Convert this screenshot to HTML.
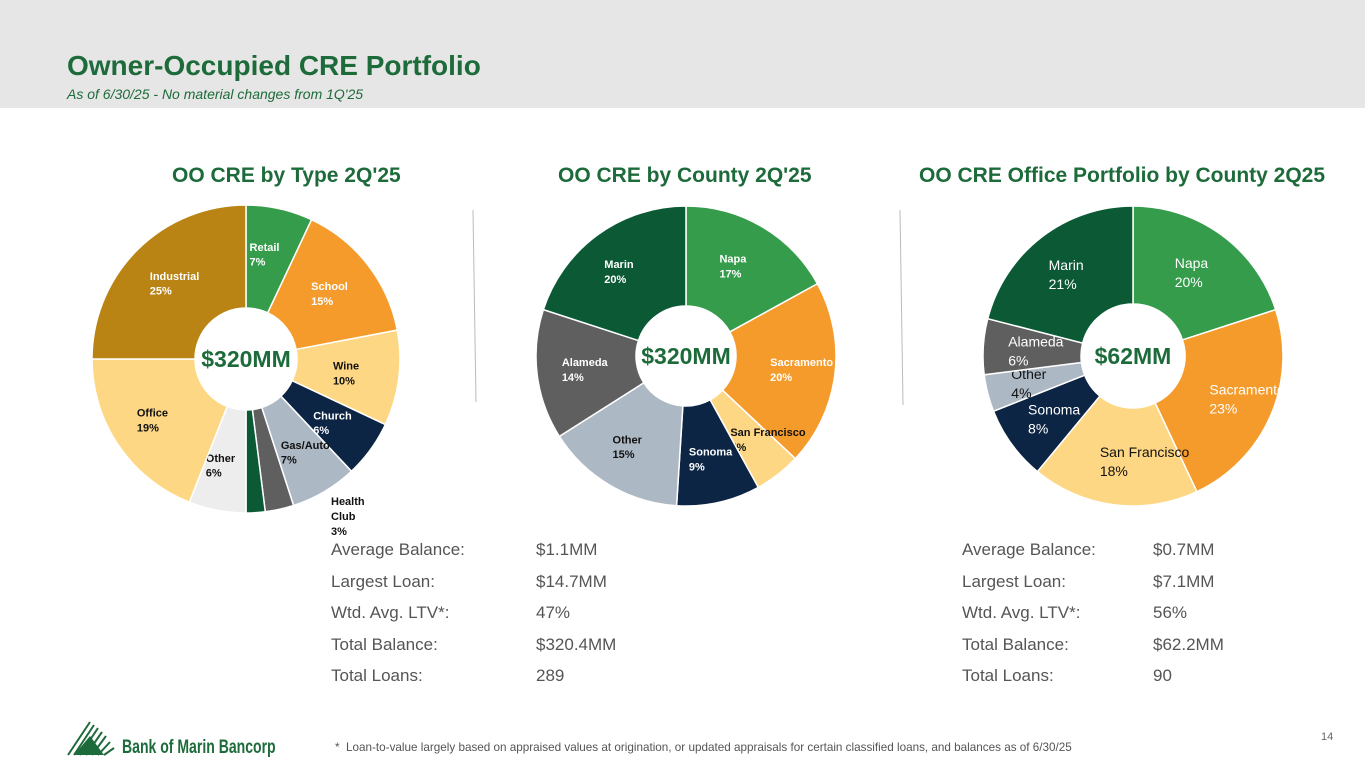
<!DOCTYPE html>
<html><head><meta charset="utf-8">
<style>
body{margin:0;width:1365px;height:768px;overflow:hidden;background:#fff;font-family:"Liberation Sans",sans-serif;position:relative}
.hdr{position:absolute;left:0;top:0;width:1365px;height:108px;background:#e6e6e6}
.title{position:absolute;left:67px;top:50px;font-size:28px;font-weight:bold;color:#1d6b3a}
.sub{position:absolute;left:67px;top:86px;font-size:14px;font-style:italic;color:#1d6b3a}
.ct{position:absolute;top:164px;font-size:21px;font-weight:bold;color:#1d6b3a}
.stats{position:absolute;font-size:17px;color:#555;line-height:31.5px}
.stats span{display:inline-block;width:205px}
.foot{position:absolute;left:335px;top:741px;font-size:11.7px;color:#555}
.pg{position:absolute;left:1321px;top:731px;font-size:11px;color:#666}
</style></head><body>
<div class="hdr"></div>
<div class="title">Owner-Occupied CRE Portfolio</div>
<div class="sub">As of 6/30/25 - No material changes from 1Q'25</div>
<div class="ct" style="left:172px">OO CRE by Type 2Q'25</div>
<div class="ct" style="left:558px">OO CRE by County 2Q'25</div>
<div class="ct" style="left:919px">OO CRE Office Portfolio by County 2Q25</div>
<svg id="svg" width="1365" height="768" style="position:absolute;left:0;top:0">
<line x1="473" y1="210" x2="476" y2="402" stroke="#bbb" stroke-width="1"/>
<line x1="900" y1="210" x2="903" y2="405" stroke="#bbb" stroke-width="1"/>
</svg>
<div class="stats" style="left:331px;top:534px">
<div><span>Average Balance:</span>$1.1MM</div><div><span>Largest Loan:</span>$14.7MM</div><div><span>Wtd. Avg. LTV*:</span>47%</div><div><span>Total Balance:</span>$320.4MM</div><div><span>Total Loans:</span>289</div></div>
<div class="stats" style="left:962px;top:534px">
<div><span style="width:191px">Average Balance:</span>$0.7MM</div><div><span style="width:191px">Largest Loan:</span>$7.1MM</div><div><span style="width:191px">Wtd. Avg. LTV*:</span>56%</div><div><span style="width:191px">Total Balance:</span>$62.2MM</div><div><span style="width:191px">Total Loans:</span>90</div></div>
<svg style="position:absolute;left:66px;top:720px" width="215" height="40">
<g stroke="#1d6b3a" stroke-width="2"><line x1="2" y1="35" x2="24" y2="2"/><line x1="8" y1="35" x2="28" y2="5"/><line x1="14" y1="35" x2="32" y2="8"/><line x1="20" y1="35" x2="36" y2="12"/><line x1="26" y1="35" x2="40" y2="16"/><line x1="32" y1="35" x2="44" y2="22"/><line x1="38" y1="35" x2="48" y2="28"/></g>
<polygon points="8,35 24,16 38,35" fill="#1d6b3a"/>
<text x="0" y="0" transform="translate(56,33) scale(0.78,1.1)" font-size="18" font-weight="bold" fill="#1d6b3a">Bank of Marin Bancorp</text></svg>
<div class="foot">* &nbsp;Loan-to-value largely based on appraised values at origination, or updated appraisals for certain classified loans, and balances as of 6/30/25</div>
<div class="pg">14</div>
<script>
const typeCats=["Retail","School","Wine","Church","Gas/Auto","Health Club","Misc","Other","Office","Industrial"];
const typeVals=[7,15,10,6,7,3,2,6,19,25];
const typeCols=["#349c4a","#f59b2c","#fdd784","#0c2544","#adb8c5","#5f5f5f","#0b5a35","#ededed","#fdd784","#b98414"];
const typeLabelCol=["#fff","#fff","#111","#fff","#111","#111","#111","#111","#111","#fff"];
const cntyCats=["Napa","Sacramento","San Francisco","Sonoma","Other","Alameda","Marin"];
const cntyVals=[17,20,5,9,15,14,20];
const offCats=["Napa","Sacramento","San Francisco","Sonoma","Other","Alameda","Marin"];
const offVals=[20,23,18,8,4,6,21];
const cntyCols=["#349c4a","#f59b2c","#fdd784","#0c2544","#adb8c5","#5f5f5f","#0b5a35"];
const cntyLabelCol=["#fff","#fff","#111","#fff","#111","#fff","#fff"];
const NS="http://www.w3.org/2000/svg";
const svg=document.getElementById('svg');
function pt(cx,cy,r,a){return [cx+r*Math.sin(a),cy-r*Math.cos(a)];}
function donut(id,cx,cy,R,ri,cats,vals,cols,lcols,center,bold,fs,skip){
  const tot=vals.reduce((a,b)=>a+b,0);let a0=0;
  const g=document.createElementNS(NS,'g');
  
  
  svg.appendChild(g);
  cats.forEach((c,i)=>{
    const a1=a0+vals[i]/tot*2*Math.PI;
    const [x0,y0]=pt(cx,cy,R,a0),[x1,y1]=pt(cx,cy,R,a1),[x2,y2]=pt(cx,cy,ri,a1),[x3,y3]=pt(cx,cy,ri,a0);
    const lg=(a1-a0)>Math.PI?1:0;
    const p=document.createElementNS(NS,'path');
    p.setAttribute('d',`M${x0},${y0}A${R},${R} 0 ${lg} 1 ${x1},${y1}L${x2},${y2}A${ri},${ri} 0 ${lg} 0 ${x3},${y3}Z`);
    p.setAttribute('fill',cols[i]);p.setAttribute('stroke','#fff');p.setAttribute('stroke-width','1.5');
    
    
    g.appendChild(p);
    if(!skip.includes(c)){
      const m=(a0+a1)/2;const [lx,ly]=pt(cx,cy,R*0.7,m);
      const t=document.createElementNS(NS,'text');
      t.setAttribute('x',lx-20);t.setAttribute('y',ly-3);t.setAttribute('font-size',fs);
      if(bold)t.setAttribute('font-weight','bold');
      t.setAttribute('fill',lcols[i]);
      
      
      t.innerHTML=`<tspan x="${lx-20}">${c}</tspan><tspan x="${lx-20}" dy="${fs*1.35}">${vals[i]}%</tspan>`;
      g.appendChild(t);
    }
    a0=a1;
  });
  const ct=document.createElementNS(NS,'text');
  ct.setAttribute('x',cx);ct.setAttribute('y',cy+8);ct.setAttribute('text-anchor','middle');
  ct.setAttribute('font-size','23');ct.setAttribute('font-weight','bold');ct.setAttribute('fill','#1d6b3a');
  
  
  ct.textContent=center;g.appendChild(ct);
}
donut('type-donut',246,359,154,51,typeCats,typeVals,typeCols,typeLabelCol,'$320MM',true,11,["Misc","Health Club"]);
donut('county-donut',686,356,150,50,cntyCats,cntyVals,cntyCols,cntyLabelCol,'$320MM',true,11,[]);
donut('office-donut',1133,356,150,52,offCats,offVals,cntyCols,cntyLabelCol,'$62MM',false,14,[]);
const hc=document.createElementNS(NS,'text');
hc.setAttribute('x','331');hc.setAttribute('y','505');hc.setAttribute('font-size','11');hc.setAttribute('font-weight','bold');hc.setAttribute('fill','#111');


hc.innerHTML='<tspan x="331">Health</tspan><tspan x="331" dy="15">Club</tspan><tspan x="331" dy="15">3%</tspan>';
svg.appendChild(hc);
</script>
</body></html>
